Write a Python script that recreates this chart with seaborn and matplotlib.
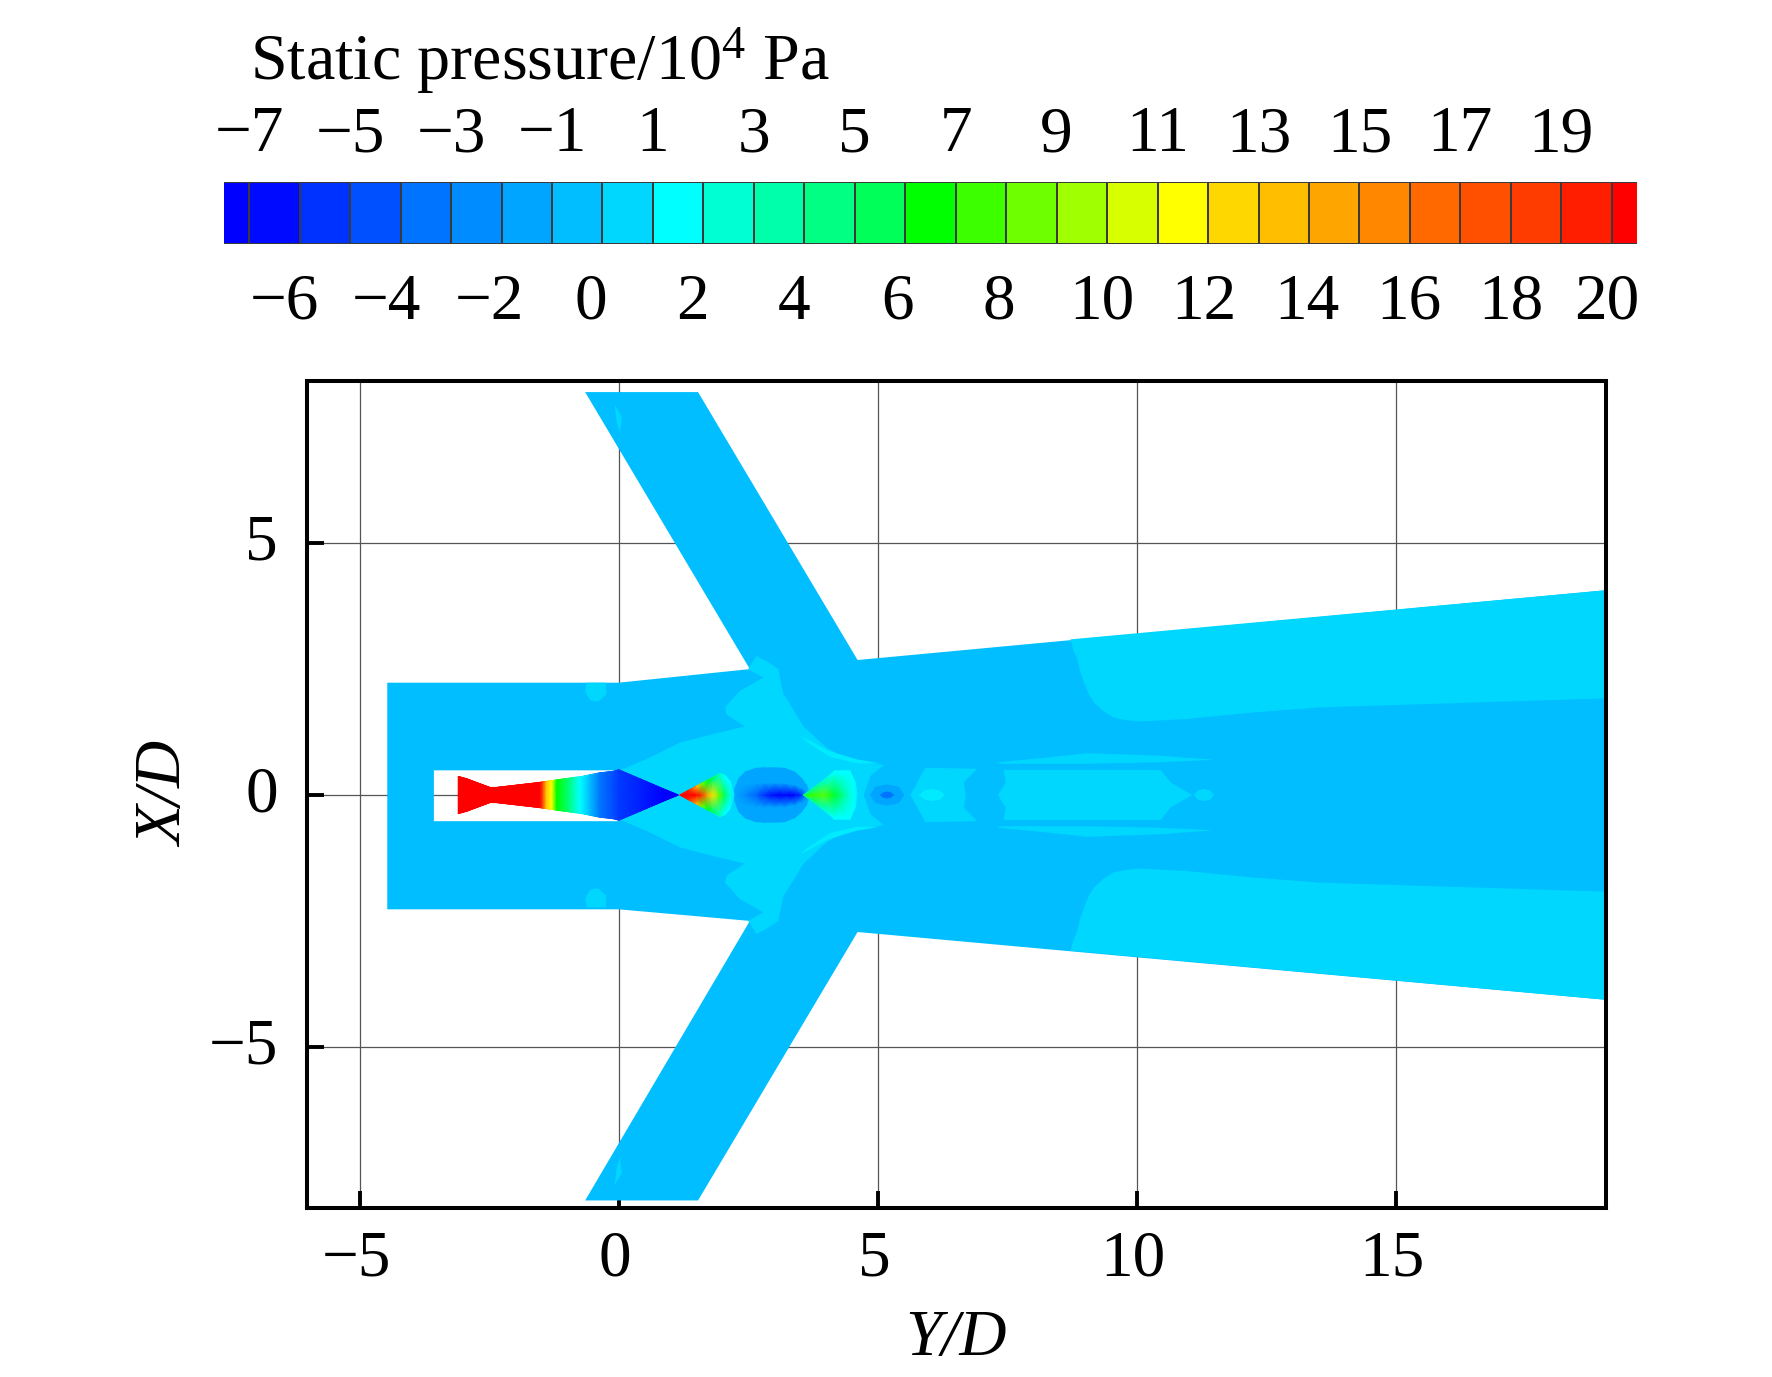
import numpy as np
import matplotlib
matplotlib.use("Agg")
import matplotlib.pyplot as plt
import seaborn as sns
from matplotlib.colors import LinearSegmentedColormap
from matplotlib.patches import PathPatch
from matplotlib.path import Path
from matplotlib.transforms import ScaledTranslation

# ---------- colour bar data ----------
band_colors = [
    "#0000ff", "#000aff", "#0032ff", "#0050ff", "#0073ff", "#008cff", "#00a5ff", "#00beff",
    "#00d7ff", "#00ffff", "#00ffd2", "#00ffaa", "#00ff82", "#00ff5a", "#00ff00", "#3cff00",
    "#6eff00", "#a0ff00", "#d7ff00", "#ffff00", "#ffd700", "#ffbe00", "#ffa500", "#ff8700",
    "#ff6900", "#ff5000", "#ff3c00", "#ff1e00", "#ff0000",
]
band_levels = [
    -7, -6.04, -5.07, -4.11, -3.14, -2.18, -1.21, -0.25, 0.71, 1.68, 2.64, 3.61, 4.57, 5.54, 6.5,
    7.46, 8.43, 9.39, 10.36, 11.32, 12.29, 13.25, 14.21, 15.18, 16.14, 17.11, 18.07, 19.04, 20,
]
top_labels = ["\u22127", "\u22125", "\u22123", "\u22121", "1", "3", "5", "7", "9", "11", "13", "15", "17", "19"]
top_cells = [1, 3, 5, 7, 9, 11, 13, 15, 17, 19, 21, 23, 25, 27]
bottom_labels = ["\u22126", "\u22124", "\u22122", "0", "2", "4", "6", "8", "10", "12", "14", "16", "18", "20"]
bottom_cells = [1.69, 3.71, 5.75, 7.76, 9.78, 11.8, 13.84, 15.86, 17.9, 19.92, 21.96, 23.98, 26.0, 27.9]

# ---------- pressure levels used by the regions ----------
p_base = -0.25
p_light = 0.71
p_streak = 1.2

# ---------- flow domain outline (Y/D, X/D) ----------
domain_x = [-4.47, 0, 2.53, -0.65, 1.53, 4.61, 19.1, 19.1, 4.61, 1.53, -0.65, 2.53, 0, -4.47]
domain_y = [2.23, 2.23, 2.5, 8.0, 8.0, 2.68, 4.07, -4.07, -2.72, -8.05, -8.05, -2.5, -2.27, -2.27]
body_x = [-3.57, -3.57, 0, 0]
body_y = [0.49, -0.52, -0.52, 0.49]

# ---------- upper halves of the light regions, mirrored when drawn ----------
junction_x = [0, 0.53, 1.18, 1.82, 2.43, 2.08, 2.05, 2.34, 2.79, 2.50, 2.66, 2.85, 3.08, 3.17, 3.56, 4.01, 4.46, 5.12, 4.86, 4.73]
junction_y = [0.48, 0.71, 1.04, 1.21, 1.36, 1.60, 1.74, 2.07, 2.33, 2.50, 2.76, 2.66, 2.50, 2.03, 1.37, 0.94, 0.68, 0.60, 0.38, 0]
streak_x = [3.52, 4.07, 4.59, 5.04, 4.59, 4.07, 3.61]
streak_y = [1.17, 0.87, 0.71, 0.63, 0.63, 0.76, 1.07]
blob_x = [-0.62, -0.25, -0.24, -0.40, -0.55, -0.65]
blob_y = [2.23, 2.23, 2.0, 1.85, 1.88, 2.05]
speck_x = [-0.08, 0.06, 0.02, -0.04]
speck_y = [7.75, 7.5, 7.2, 7.4]
wake_x = [8.72, 8.78, 8.85, 8.91, 8.98, 9.07, 9.17, 9.36, 9.55, 9.82, 10.07, 10.97, 12.26, 13.55, 19.1, 19.1]
wake_y = [3.09, 2.87, 2.70, 2.44, 2.24, 2.01, 1.84, 1.66, 1.54, 1.48, 1.46, 1.51, 1.64, 1.74, 1.92, 4.07]
hex_x = [5.63, 5.92, 6.92, 6.66, 6.70]
hex_y = [0, 0.54, 0.52, 0.25, 0]
long_x = [7.32, 7.47, 7.43, 10.46, 10.65, 11.07]
long_y = [0, 0.25, 0.50, 0.50, 0.25, 0]
lens_x = [7.30, 8.14, 9.04, 10.46, 11.49, 10.46, 9.04, 7.37]
lens_y = [0.65, 0.73, 0.83, 0.78, 0.70, 0.65, 0.62, 0.62]
oval1_x = [5.80, 5.90, 6.05, 6.20, 6.29]
oval1_y = [0, 0.09, 0.12, 0.09, 0]
oval2_x = [11.10, 11.18, 11.30, 11.42, 11.49]
oval2_y = [0, 0.09, 0.12, 0.09, 0]
weak_outer_x = [4.85, 4.95, 5.18, 5.41, 5.51]
weak_outer_y = [0, 0.16, 0.21, 0.16, 0]
weak_inner_x = [5.04, 5.10, 5.18, 5.26, 5.32]
weak_inner_y = [0, 0.05, 0.07, 0.05, 0]

# ---------- stations along the axis: position, half width, core and edge pressure ----------
nozzle_x = [-3.10, -2.93, -2.49, -2.36, -1.525, -1.46, -1.40, -1.30, -1.20, -0.98, -0.85, -0.75, -0.56, -0.37, -0.11, 0, 0.41, 0.86, 1.145]
nozzle_h = [0.37, 0.32, 0.15, 0.15, 0.25, 0.26, 0.27, 0.285, 0.30, 0.33, 0.35, 0.36, 0.40, 0.44, 0.47, 0.50, 0.32, 0.12, 0]
nozzle_p = [20, 20, 20, 20, 20, 17, 13, 11.3, 6.5, 5, 3, 1.7, -0.3, -3, -4.2, -4.8, -5.5, -7, -7]

cell_a_x = [1.18, 1.35, 1.5, 1.62, 1.72, 1.82, 1.95, 2.05, 2.15, 2.22]
cell_a_h = [0, 0.095, 0.18, 0.245, 0.30, 0.355, 0.43, 0.39, 0.27, 0]
cell_a_core = [20, 20, 20, 18, 14, 12, 8, 5.5, 2.5, 1]
cell_a_edge = [20, 19, 14, 8, 6, 5, 3, 1.7, 1.7, 1]

low_x = [2.24, 2.32, 2.45, 2.65, 2.8, 3.0, 3.2, 3.4, 3.53, 3.62, 3.69]
low_h = [0.12, 0.33, 0.46, 0.53, 0.54, 0.54, 0.53, 0.45, 0.33, 0.2, 0]
low_core = [-1.2, -1.5, -2.2, -3.5, -5, -6.3, -6.8, -6.6, -5, -2, -0.5]
low_edge = [-1.2, -1.2, -1.2, -1.2, -1.2, -1.2, -1.2, -1.2, -1.2, -1.2, -0.5]

cell_b_x = [3.57, 3.94, 4.17, 4.35, 4.46, 4.56, 4.60]
cell_b_h = [0, 0.28, 0.48, 0.48, 0.48, 0.25, 0]
cell_b_core = [7, 8, 6, 4, 2.5, 1.7, 1.0]
cell_b_edge = [5, 3, 1.7, 1.7, 1.7, 1.7, 1.0]

# ---------- axis ticks ----------
x_ticks = [-5, 0, 5, 10, 15]
y_ticks = [-5, 0, 5]
x_tick_labels = ["\u22125", "0", "5", "10", "15"]
y_tick_labels = ["\u22125", "0", "5"]

sns.set_theme(style="ticks")
plt.rcParams["font.family"] = ["Liberation Serif", "DejaVu Serif"]
plt.rcParams["mathtext.fontset"] = "custom"
plt.rcParams["mathtext.rm"] = "Liberation Serif"
plt.rcParams["mathtext.it"] = "Liberation Serif:italic"

W, H = 1772, 1377
FONT = 47
smooth_cmap = LinearSegmentedColormap.from_list("bands", band_colors, N=2048)


def color_of(p):
    return smooth_cmap((p + 7) / 27)


fig = plt.figure(figsize=(W / 100, H / 100), dpi=100)

# colour bar
cb_ax = fig.add_axes([224 / W, 1 - 244 / H, 1413 / W, 62 / H])
sns.heatmap(
    np.array(band_levels)[None, :], ax=cb_ax, cmap=smooth_cmap, vmin=-7, vmax=20,
    cbar=False, linewidths=1.2, linecolor="#3a3a3a", yticklabels=False,
)
cb_ax.set_xlim(0.5, 28.5)
cb_ax.set_xticks(bottom_cells)
cb_ax.set_xticklabels(bottom_labels, rotation=0, fontsize=FONT)
cb_ax.tick_params(axis="x", length=0, pad=21, labelcolor="black")
cb_ax.tick_params(axis="y", length=0)

cb_top = cb_ax.twiny()
cb_top.set_xlim(0.5, 28.5)
cb_top.set_xticks(top_cells)
cb_top.set_xticklabels(top_labels, fontsize=FONT)
cb_top.tick_params(axis="x", length=0, pad=12, labelcolor="black")
for spine in list(cb_ax.spines.values()) + list(cb_top.spines.values()):
    spine.set_visible(False)

fig.text(250 / W, 1 - 79 / H, "Static pressure/10$^{4}$ Pa", fontsize=47.5, color="black", va="baseline")

# main field
ax = fig.add_axes([307 / W, 1 - 1208 / H, 1299 / W, 827 / H])
ax.set_xlim(-6.02, 19.06)
ax.set_ylim(-8.2, 8.22)
ax.grid(True, color="#555555", linewidth=0.9)
ax.set_axisbelow(True)

outer = Path(np.column_stack([domain_x + domain_x[:1], domain_y + domain_y[:1]]), closed=True)
hole = Path(np.column_stack([body_x + body_x[:1], body_y + body_y[:1]]), closed=True)
ax.add_patch(PathPatch(Path.make_compound_path(outer, hole), facecolor=color_of(p_base), edgecolor="none", zorder=2))


def fill_mirror(xs, ys, p, z=3):
    # draw the region above the axis and its mirror image below it
    xs, ys = np.array(xs), np.array(ys)
    ax.fill(xs, ys, color=color_of(p), lw=0, zorder=z)
    ax.fill(xs, -ys, color=color_of(p), lw=0, zorder=z)


def fill_sym(xs, ys, p, z=3):
    # one closed region crossing the axis
    xs, ys = np.array(xs), np.array(ys)
    ax.fill(np.r_[xs, xs[::-1]], np.r_[ys, -ys[::-1]], color=color_of(p), lw=0, zorder=z)


def draw_cell(xs, hs, core, edge, knee=0.98, z=5):
    # smooth shock cell, pressure runs from the core to the edge across the width
    xs, hs, core, edge = np.array(xs), np.array(hs), np.array(core), np.array(edge)
    rows = np.array([-1, -knee, 0, knee, 1])
    X = np.tile(xs, (5, 1))
    Y = np.outer(rows, hs)
    P = np.vstack([edge, edge, core, edge, edge])
    ax.pcolormesh(X, Y, P, shading="gouraud", cmap=smooth_cmap, vmin=-7, vmax=20, zorder=z)


fill_sym(junction_x, junction_y, p_light)
fill_mirror(streak_x, streak_y, p_streak, z=4)
fill_mirror(blob_x, blob_y, p_light)
fill_mirror(speck_x, speck_y, p_light)
fill_mirror(wake_x, wake_y, p_light)
fill_sym(hex_x, hex_y, p_light)
fill_sym(long_x, long_y, p_light)
fill_mirror(lens_x, lens_y, p_light)
fill_sym(oval1_x, oval1_y, p_streak, z=4)
fill_sym(oval2_x, oval2_y, p_light, z=4)
fill_sym(weak_outer_x, weak_outer_y, -1.21, z=4)
fill_sym(weak_inner_x, weak_inner_y, -3.14, z=4)

draw_cell(low_x, low_h, low_core, low_edge, knee=0.45)
draw_cell(cell_a_x, cell_a_h, cell_a_core, cell_a_edge, knee=0.85)
draw_cell(cell_b_x, cell_b_h, cell_b_core, cell_b_edge, knee=0.9)
draw_cell(nozzle_x, nozzle_h, nozzle_p, nozzle_p, z=6)

ax.set_xticks(x_ticks)
ax.set_xticklabels(x_tick_labels)
ax.set_yticks(y_ticks)
ax.set_yticklabels(y_tick_labels)
ax.tick_params(axis="both", direction="in", length=12, width=2.8, labelsize=FONT, color="black", labelcolor="black", zorder=8)
ax.tick_params(axis="x", pad=16)
ax.tick_params(axis="y", pad=21)

# small nudges so the tick labels sit where the original has them
for label in ax.get_xticklabels():
    label.set_transform(label.get_transform() + ScaledTranslation(-3.5 / 100, 0, fig.dpi_scale_trans))
for label in ax.get_yticklabels():
    label.set_transform(label.get_transform() + ScaledTranslation(0, 6 / 100, fig.dpi_scale_trans))

ax.set_xlabel("Y/D", fontsize=FONT, style="italic", color="black", labelpad=14)
ax.set_ylabel("X/D", fontsize=FONT, style="italic", color="black", labelpad=9)
for spine in ax.spines.values():
    spine.set_visible(True)
    spine.set_linewidth(2.9)
    spine.set_color("black")
    spine.set_zorder(9)

fig.savefig("out.png", dpi=100, facecolor="white")
